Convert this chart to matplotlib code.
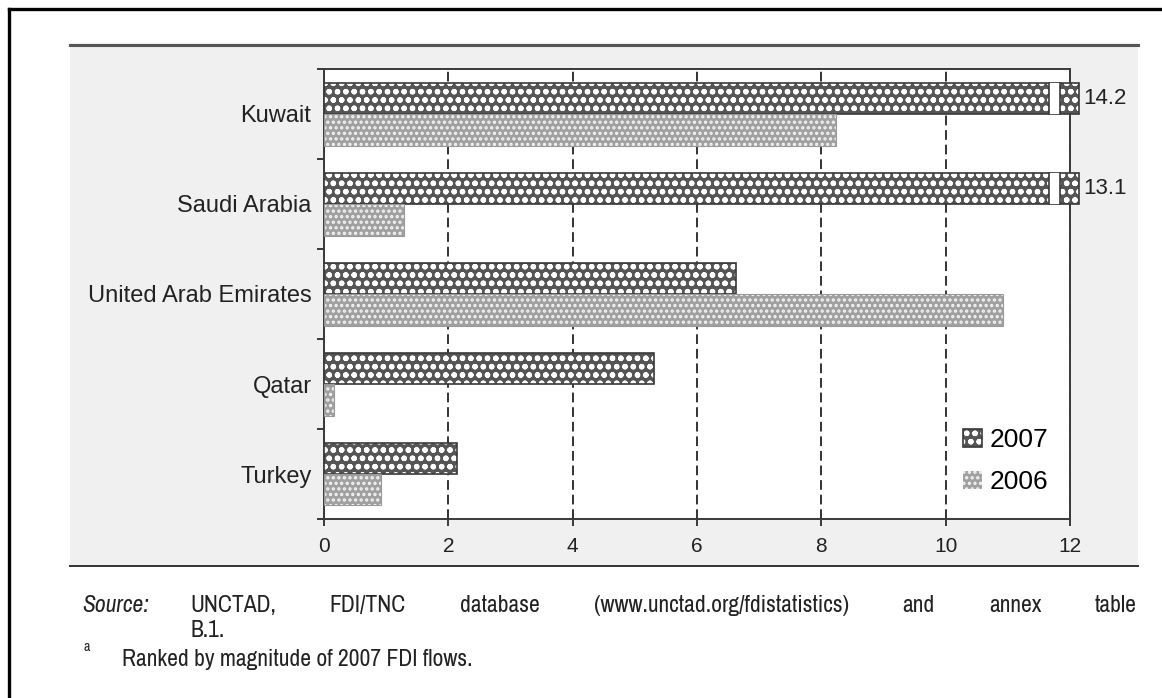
import matplotlib
matplotlib.use("Agg")
import matplotlib.pyplot as plt
from matplotlib.patches import Rectangle, Patch
from matplotlib.lines import Line2D
import numpy as np

# ---- data -------------------------------------------------------------
countries = ["Kuwait", "Saudi Arabia", "United Arab Emirates", "Qatar", "Turkey"]
fdi_2007 = [14.2, 13.1, 6.63, 5.31, 2.14]
fdi_2006 = [8.24, 1.29, 10.92, 0.16, 0.92]
x_ticks = [0, 2, 4, 6, 8, 10, 12]
series_labels = ["2007", "2006"]
source_label = "Source:"
source_line1 = "UNCTAD, FDI/TNC database (www.unctad.org/fdistatistics) and annex table"
source_line2 = "B.1."
note_mark = "a"
note_text = "Ranked by magnitude of 2007 FDI flows."

plt.rcParams['font.family'] = ['Liberation Sans', 'DejaVu Sans']
plt.rcParams['hatch.linewidth'] = 1.6
NARROW = ['Archivo Narrow', 'Liberation Sans', 'DejaVu Sans']

W, H = 1162, 698
fig = plt.figure(figsize=(W / 100, H / 100), dpi=100)


def fx(px):
    return px / W


def fy(py):
    return 1 - py / H


# ---- page furniture ---------------------------------------------------
fig.add_artist(Line2D([fx(9), 1], [fy(9), fy(9)], color='black', lw=2.4, zorder=2))
fig.add_artist(Line2D([fx(9), fx(9)], [fy(9), 0], color='black', lw=2.4, zorder=2))

fig.add_artist(Rectangle((fx(70), fy(566)), fx(1138) - fx(70), fy(43) - fy(566),
                         transform=fig.transFigure, facecolor='#f0f0f0',
                         edgecolor='none', zorder=0))
fig.add_artist(Line2D([fx(70), fx(1138)], [fy(44.5), fy(44.5)], color='#555555', lw=2.2))
fig.add_artist(Line2D([fx(70), fx(1138)], [fy(566), fy(566)], color='#333333', lw=1.4))

# ---- axes ------------------------------------------------------------
ax = fig.add_axes([fx(324), fy(519), fx(1070) - fx(324), fy(69) - fy(519)])
ax.set_facecolor('white')

y = np.arange(len(countries))
h = 0.35
dark = '#3a3a3a'

clip = Rectangle((0, -1), 12.15, len(countries) + 2, transform=ax.transData)

face07, hatch07 = '#555555', 'oo'
face06, hatch06 = '#a0a0a0', '...'

ax.barh(y - h / 2, fdi_2007, height=h, color=face07, hatch=hatch07,
        edgecolor='white', linewidth=0, zorder=3)
ax.barh(y - h / 2, fdi_2007, height=h, fill=False, edgecolor=dark,
        linewidth=1.2, zorder=3.1)
ax.barh(y + h / 2, fdi_2006, height=h, color=face06, hatch=hatch06,
        edgecolor='#f4f4f4', linewidth=0, zorder=3)
ax.barh(y + h / 2, fdi_2006, height=h, fill=False, edgecolor='#999999',
        linewidth=0.8, zorder=3.1)

for art in ax.patches:
    art.set_clip_path(clip)

# broken bars that run past the scale
gap_lo, gap_hi, cut = 11.66, 11.84, 12.15
for yi, v in zip(y, fdi_2007):
    if v > 12:
        top, bot = yi - h, yi
        ax.add_patch(Rectangle((gap_lo, top), gap_hi - gap_lo, h, facecolor='white',
                               edgecolor='none', zorder=3.2, clip_on=False))
        for xe in (gap_lo, gap_hi, cut):
            ax.plot([xe, xe], [top, bot], color=dark, lw=1.2, zorder=3.3,
                    clip_on=False)
        ax.text(cut + 0.06, yi - h / 2, f"{v:.1f}", ha='left', va='center',
                fontsize=16, color='#222222', clip_on=False)

ax.set_xlim(0, 12)
ax.set_ylim(len(countries) - 0.5, -0.5)
ax.set_xticks(x_ticks)
ax.set_xticklabels([str(t) for t in x_ticks], fontsize=15, color='#222222')
ax.set_yticks(np.arange(len(countries) + 1) - 0.5)
ax.set_yticklabels([])
ax.set_yticks(y, minor=True)
ax.set_yticklabels(countries, minor=True, fontsize=17, color='#222222')
ax.tick_params(axis='y', which='minor', length=0, pad=9)
ax.tick_params(axis='y', which='major', length=5, width=1.4, color=dark)
ax.tick_params(axis='x', length=5, width=1.4, color=dark, pad=8)

ax.set_axisbelow(True)
ax.xaxis.grid(True, color='#333333', lw=1.4, linestyle=(0, (5, 2.5)))
for s in ax.spines.values():
    s.set_color(dark)
    s.set_linewidth(1.4)

handles = [
    (Patch(facecolor=face07, hatch=hatch07, edgecolor='white', linewidth=0),
     Patch(fill=False, edgecolor=dark, linewidth=1.2)),
    (Patch(facecolor=face06, hatch=hatch06, edgecolor='#f4f4f4', linewidth=0),),
]
ax.legend(handles, series_labels, loc='lower right',
          bbox_to_anchor=(0.985, 0.032), frameon=False, fontsize=19,
          handlelength=0.7, handleheight=0.7, handletextpad=0.3,
          labelspacing=0.68, borderaxespad=0)

# ---- source notes ----------------------------------------------------
NOTE_SIZE = 17
fig.text(fx(82), fy(612), source_label, fontsize=NOTE_SIZE, style='italic',
         family=NARROW, color='#222222', va='baseline')

fig.canvas.draw()
renderer = fig.canvas.get_renderer()


def justified(line, x0, x1, ybase, size):
    words = line.split(' ')
    arts = [fig.text(0, fy(ybase), w, fontsize=size, family=NARROW,
                     color='#222222', va='baseline') for w in words]
    widths = [a.get_window_extent(renderer).width for a in arts]
    gap = ((x1 - x0) - sum(widths)) / (len(words) - 1)
    xpos = x0
    for a, w in zip(arts, widths):
        a.set_x(fx(xpos))
        xpos += w + gap


justified(source_line1, 190, 1137, 612, NOTE_SIZE)
fig.text(fx(190), fy(637), source_line2, fontsize=NOTE_SIZE, family=NARROW,
         color='#222222', va='baseline')
fig.text(fx(83), fy(651), note_mark, fontsize=10, family=NARROW,
         color='#222222', va='baseline')
fig.text(fx(122), fy(666), note_text, fontsize=NOTE_SIZE, family=NARROW,
         color='#222222', va='baseline')

fig.savefig("out.png", dpi=100)
